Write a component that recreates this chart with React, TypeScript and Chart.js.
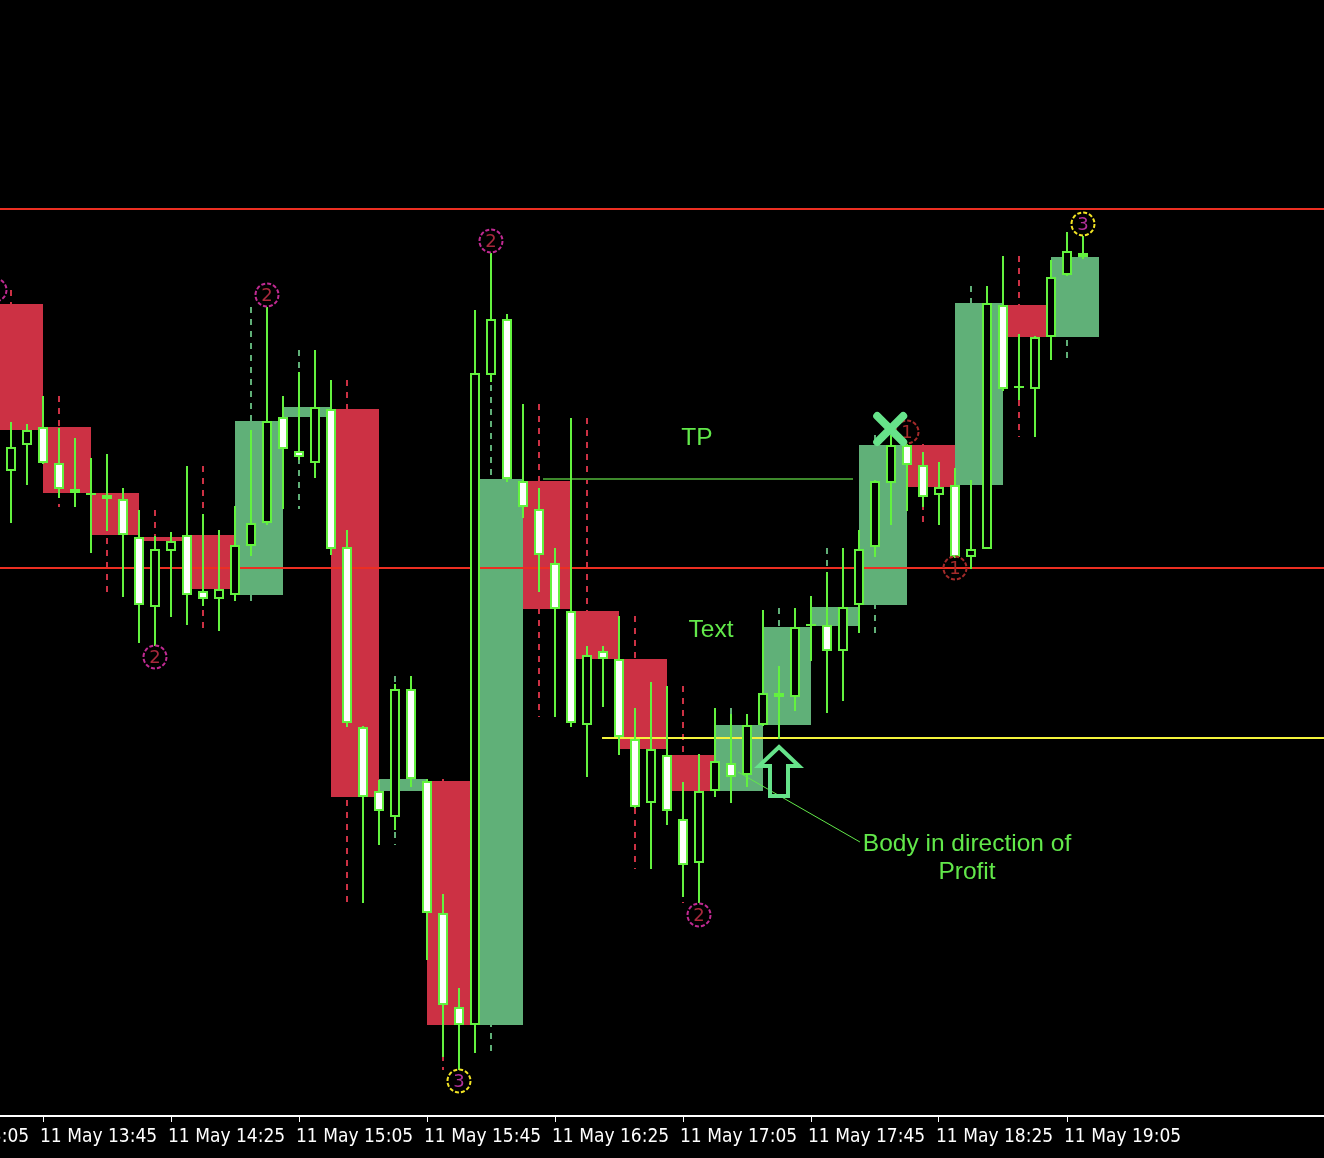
import { useEffect, useRef } from 'react';
import { Chart, registerables } from 'chart.js';

Chart.register(...registerables);

// M5 bars, index -1 = 11 May 13:30, one bar every 5 minutes
const FIRST_BAR = -1;
const FIRST_BAR_MINUTES = 13 * 60 + 30;

const opens = [
  1.21812, 1.21645, 1.21671, 1.21689, 1.21653, 1.21627, 1.21623, 1.21621, 1.21617, 1.21579,
  1.21509, 1.21565, 1.21581, 1.21525, 1.21517, 1.21521, 1.21570, 1.21593, 1.21699, 1.21665,
  1.21653, 1.21707, 1.21569, 1.21389, 1.21325, 1.21299, 1.21427, 1.21335, 1.21203, 1.21109,
  1.21091, 1.21741, 1.21797, 1.21635, 1.21607, 1.21553, 1.21505, 1.21391, 1.21465, 1.21457,
  1.21377, 1.21313, 1.21361, 1.21297, 1.21253, 1.21325, 1.21353, 1.21341, 1.21391, 1.21423,
  1.21419, 1.21490, 1.21491, 1.21465, 1.21511, 1.21569, 1.21633, 1.21671, 1.21651, 1.21621,
  1.21631, 1.21559, 1.21567, 1.21811, 1.21730, 1.21727, 1.21779, 1.21841, 1.21863,
];
const highs = [
  1.21826, 1.21694, 1.21692, 1.21720, 1.21688, 1.21678, 1.21658, 1.21662, 1.21628, 1.21606,
  1.21580, 1.21584, 1.21650, 1.21602, 1.21586, 1.21610, 1.21686, 1.21809, 1.21720, 1.21744,
  1.21766, 1.21736, 1.21586, 1.21390, 1.21336, 1.21432, 1.21440, 1.21337, 1.21222, 1.21128,
  1.21806, 1.21863, 1.21802, 1.21712, 1.21628, 1.21568, 1.21698, 1.21470, 1.21470, 1.21500,
  1.21408, 1.21434, 1.21430, 1.21334, 1.21362, 1.21408, 1.21402, 1.21402, 1.21506, 1.21450,
  1.21508, 1.21520, 1.21544, 1.21568, 1.21586, 1.21636, 1.21681, 1.21672, 1.21664, 1.21654,
  1.21648, 1.21636, 1.21830, 1.21860, 1.21782, 1.21780, 1.21856, 1.21884, 1.21880,
];
const lows = [
  1.21640, 1.21593, 1.21631, 1.21652, 1.21618, 1.21609, 1.21563, 1.21585, 1.21519, 1.21473,
  1.21470, 1.21499, 1.21491, 1.21510, 1.21485, 1.21515, 1.21560, 1.21591, 1.21607, 1.21656,
  1.21638, 1.21561, 1.21389, 1.21213, 1.21271, 1.21286, 1.21329, 1.21156, 1.21059, 1.21046,
  1.21063, 1.21734, 1.21634, 1.21598, 1.21524, 1.21399, 1.21389, 1.21339, 1.21409, 1.21361,
  1.21308, 1.21247, 1.21291, 1.21219, 1.21213, 1.21319, 1.21313, 1.21329, 1.21390, 1.21377,
  1.21405, 1.21455, 1.21403, 1.21415, 1.21483, 1.21559, 1.21591, 1.21605, 1.21609, 1.21591,
  1.21558, 1.21547, 1.21567, 1.21725, 1.21716, 1.21679, 1.21756, 1.21840, 1.21857,
];
const closes = [
  1.21646, 1.21669, 1.21686, 1.21653, 1.21627, 1.21623, 1.21621, 1.21617, 1.21581, 1.21511,
  1.21567, 1.21575, 1.21521, 1.21517, 1.21527, 1.21571, 1.21593, 1.21695, 1.21667, 1.21659,
  1.21709, 1.21567, 1.21393, 1.21319, 1.21305, 1.21427, 1.21337, 1.21203, 1.21111, 1.21091,
  1.21743, 1.21797, 1.21637, 1.21609, 1.21561, 1.21507, 1.21393, 1.21461, 1.21457, 1.21379,
  1.21309, 1.21367, 1.21305, 1.21251, 1.21325, 1.21355, 1.21339, 1.21391, 1.21423, 1.21419,
  1.21489, 1.21492, 1.21465, 1.21509, 1.21567, 1.21635, 1.21671, 1.21651, 1.21619, 1.21629,
  1.21559, 1.21567, 1.21813, 1.21727, 1.21728, 1.21779, 1.21839, 1.21865, 1.21859,
];

// Horizontal levels
const resistanceLevel = 1.21907;
const supportLevel = 1.21548;
const entryLevel = 1.21378;
const entryFromBar = 36.94;
const tpLevel = 1.21637;
const tpFromBar = 33.25;
const tpToBar = 52.625;

// Swing markers: bar, price, number
const markerBars = [-1, 16, 9, 30, 28, 43, 56, 59, 67];
const markerPrices = [1.21826, 1.21821, 1.21459, 1.21875, 1.21035, 1.21201, 1.21684, 1.21548, 1.21892];
const markerNumbers = ['2', '2', '2', '2', '3', '2', '1', '1', '3'];

// Annotations
const noteTexts = ['TP', 'Text', 'Body in direction of', 'Profit'];
const noteBars = [42.875, 43.75, 59.75, 59.75];
const notePrices = [1.21679, 1.21487, 1.21273, 1.21245];
const pointerFrom = { bar: 45.44, price: 1.21344 };
const pointerTo = { bar: 53.06, price: 1.21274 };
const arrowBar = 48;
const arrowPrice = 1.21371;
const exitBar = 54.95;
const exitPrice = 1.21687;

// Axis ticks every 8 bars (40 minutes)
const tickBars = [-6, 2, 10, 18, 26, 34, 42, 50, 58, 66];

const X_MIN = -0.6875;
const X_MAX = 82.0625;
const Y_MIN = 1.21;
const Y_MAX = 1.22116;

const LIME = '#63f23f';
const BOX_RED = '#cc3144';
const BOX_GREEN = '#60b078';
const LINE_RED = '#ec2f22';
const LINE_YELLOW = '#f4f43c';
const TP_GREEN = '#3e8a2c';
const NOTE_GREEN = '#62e84a';
const SIGNAL_GREEN = '#66e38a';

function timeLabel(bar: number) {
  const m = FIRST_BAR_MINUTES + (bar - FIRST_BAR) * 5;
  const hh = Math.floor(m / 60);
  const mm = m % 60;
  return `11 May ${hh}:${mm < 10 ? '0' : ''}${mm}`;
}

type Htf = { start: number; o: number; h: number; l: number; c: number };

function buildM15(): Htf[] {
  const out: Htf[] = [];
  for (let i = 0; i < opens.length; i += 3) {
    const idx = [i, i + 1, i + 2].filter((j) => j < opens.length);
    out.push({
      start: FIRST_BAR + i,
      o: opens[i],
      c: closes[idx[idx.length - 1]],
      h: Math.max(...idx.map((j) => highs[j])),
      l: Math.min(...idx.map((j) => lows[j])),
    });
  }
  return out;
}

const annotationPlugin = {
  id: 'tradeAnnotations',
  afterDatasetsDraw(chart: any) {
    const { ctx } = chart;
    const xs = chart.scales.x;
    const ys = chart.scales.y;
    const px = (b: number) => xs.getPixelForValue(b);
    const py = (p: number) => ys.getPixelForValue(p);
    ctx.save();

    // swing markers
    markerBars.forEach((b, i) => {
      const x = px(b);
      const y = py(markerPrices[i]);
      const n = markerNumbers[i];
      const ring = n === '1' ? '#a32a2a' : n === '2' ? '#c02a92' : '#f2e424';
      const digit = n === '1' ? '#a32a2a' : n === '2' ? '#a8283c' : '#b0309a';
      ctx.beginPath();
      ctx.setLineDash([4, 2]);
      ctx.lineWidth = 2;
      ctx.strokeStyle = ring;
      ctx.arc(x, y, 11.5, 0, Math.PI * 2);
      ctx.stroke();
      ctx.setLineDash([]);
      ctx.fillStyle = digit;
      ctx.font = '18px "DejaVu Sans", sans-serif';
      ctx.textAlign = 'center';
      ctx.textBaseline = 'middle';
      ctx.fillText(n, x, y + 1);
    });

    // pointer line to the note
    ctx.beginPath();
    ctx.lineWidth = 1;
    ctx.strokeStyle = NOTE_GREEN;
    ctx.moveTo(px(pointerFrom.bar), py(pointerFrom.price));
    ctx.lineTo(px(pointerTo.bar), py(pointerTo.price));
    ctx.stroke();

    // notes
    ctx.fillStyle = NOTE_GREEN;
    ctx.font = '24.5px "Liberation Sans", Arial, sans-serif';
    ctx.textAlign = 'center';
    ctx.textBaseline = 'middle';
    noteTexts.forEach((t, i) => {
      ctx.fillText(t, px(noteBars[i]), py(notePrices[i]) + 1);
    });

    // entry arrow
    const ax = px(arrowBar);
    const ay = py(arrowPrice);
    ctx.beginPath();
    ctx.moveTo(ax, ay + 2);
    ctx.lineTo(ax + 20, ay + 21);
    ctx.lineTo(ax + 9, ay + 21);
    ctx.lineTo(ax + 9, ay + 51);
    ctx.lineTo(ax - 9, ay + 51);
    ctx.lineTo(ax - 9, ay + 21);
    ctx.lineTo(ax - 20, ay + 21);
    ctx.closePath();
    ctx.lineWidth = 4;
    ctx.lineJoin = 'miter';
    ctx.strokeStyle = SIGNAL_GREEN;
    ctx.stroke();

    // exit cross
    const ex = px(exitBar);
    const ey = py(exitPrice);
    ctx.beginPath();
    ctx.lineWidth = 8;
    ctx.lineCap = 'round';
    ctx.strokeStyle = SIGNAL_GREEN;
    ctx.moveTo(ex - 13, ey - 13);
    ctx.lineTo(ex + 13, ey + 13);
    ctx.moveTo(ex + 13, ey - 13);
    ctx.lineTo(ex - 13, ey + 13);
    ctx.stroke();

    ctx.restore();
  },
};

export default function App() {
  const canvasRef = useRef<HTMLCanvasElement>(null);

  useEffect(() => {
    document.body.style.margin = '0';
    document.body.style.background = '#000';
    const canvas = canvasRef.current;
    if (!canvas) return;

    const bars = opens.map((_, i) => FIRST_BAR + i);
    const m15 = buildM15();

    const wickPoints = (bull: boolean) => {
      const pts: any[] = [];
      m15
        .filter((h) => (h.c > h.o) === bull)
        .forEach((h) => {
          pts.push({ x: h.start + 1, y: h.h }, { x: h.start + 1, y: h.l }, { x: h.start + 1, y: null });
        });
      return pts;
    };

    const hLine = (price: number, from: number, to: number, color: string, width: number, order: number) => ({
      type: 'line' as const,
      data: [
        { x: from, y: price },
        { x: to, y: price },
      ],
      borderColor: color,
      borderWidth: width,
      pointRadius: 0,
      order,
    });

    const chart = new Chart(canvas, {
      type: 'bar',
      data: {
        datasets: [
          {
            type: 'bar',
            label: 'M15',
            data: m15.map((h) => ({ x: h.start + 1.5, y: [h.o, h.c] })) as any,
            backgroundColor: m15.map((h) => (h.c > h.o ? BOX_GREEN : BOX_RED)),
            barThickness: 48,
            grouped: false,
            borderWidth: 0,
            inflateAmount: 0,
            order: 10,
          },
          {
            type: 'line',
            data: wickPoints(false) as any,
            borderColor: BOX_RED,
            borderWidth: 2,
            borderDash: [6, 6],
            pointRadius: 0,
            spanGaps: false,
            order: 9,
          },
          {
            type: 'line',
            data: wickPoints(true) as any,
            borderColor: BOX_GREEN,
            borderWidth: 2,
            borderDash: [6, 6],
            pointRadius: 0,
            spanGaps: false,
            order: 9,
          },
          hLine(resistanceLevel, X_MIN, X_MAX, LINE_RED, 2, 8) as any,
          hLine(supportLevel, X_MIN, X_MAX, LINE_RED, 2, 8) as any,
          hLine(entryLevel, entryFromBar, X_MAX, LINE_YELLOW, 2, 8) as any,
          hLine(tpLevel, tpFromBar, tpToBar, TP_GREEN, 2, 8) as any,
          {
            type: 'bar',
            label: 'wicks',
            data: bars.map((b, i) => ({ x: b, y: [lows[i], highs[i]] })) as any,
            backgroundColor: LIME,
            barThickness: 2,
            grouped: false,
            borderWidth: 0,
            inflateAmount: 0,
            order: 3,
          },
          {
            type: 'bar',
            label: 'bodies',
            data: bars.map((b, i) => ({ x: b, y: [opens[i], closes[i]] })) as any,
            backgroundColor: bars.map((_, i) => (closes[i] < opens[i] ? '#ffffff' : '#000000')),
            borderColor: LIME,
            borderWidth: 2,
            borderSkipped: false,
            barThickness: 10,
            grouped: false,
            inflateAmount: 0,
            order: 2,
          },
        ],
      },
      options: {
        animation: false,
        responsive: true,
        maintainAspectRatio: false,
        events: [],
        layout: { padding: 0, autoPadding: false },
        plugins: { legend: { display: false }, tooltip: { enabled: false } },
        scales: {
          x: {
            type: 'linear',
            min: X_MIN,
            max: X_MAX,
            offset: false,
            afterBuildTicks: (s: any) => {
              s.ticks = tickBars.map((v) => ({ value: v }));
            },
            afterFit: (s: any) => {
              s.height = 42;
              s.paddingLeft = 0;
              s.paddingRight = 0;
            },
            grid: {
              display: true,
              offset: false,
              drawOnChartArea: false,
              drawTicks: true,
              tickLength: 6,
              color: '#ffffff',
              lineWidth: 1,
            },
            border: { display: true, color: '#ffffff', width: 2 },
            ticks: {
              color: '#ffffff',
              font: { family: '"Liberation Sans Narrow", "DejaVu Sans Condensed", sans-serif', size: 19 },
              align: 'start',
              labelOffset: -3,
              padding: 4,
              maxRotation: 0,
              minRotation: 0,
              autoSkip: false,
              callback: (v: any) => timeLabel(Number(v)),
            },
          } as any,
          y: { type: 'linear', display: false, min: Y_MIN, max: Y_MAX },
        },
      },
      plugins: [annotationPlugin],
    });

    return () => chart.destroy();
  }, []);

  return (
    <div style={{ position: 'relative', width: 1324, height: 1158, background: '#000' }}>
      <canvas ref={canvasRef} />
    </div>
  );
}
